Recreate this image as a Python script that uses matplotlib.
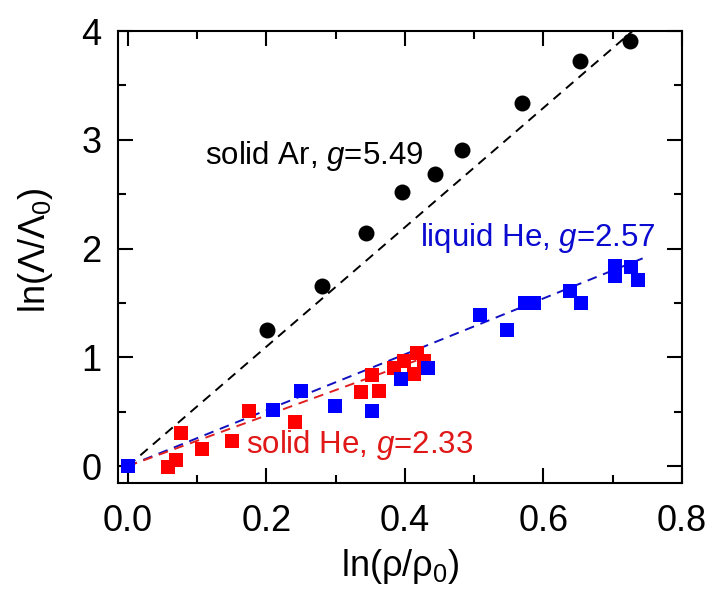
import matplotlib
matplotlib.use('Agg')
import matplotlib.pyplot as plt
import numpy as np

plt.rcParams['font.family'] = ['Liberation Sans', 'DejaVu Sans']
plt.rcParams['mathtext.fontset'] = 'custom'
plt.rcParams['mathtext.rm'] = 'Liberation Sans'
plt.rcParams['mathtext.it'] = 'Liberation Sans:italic'
plt.rcParams['mathtext.default'] = 'regular'

# solid Ar (black circles)
ar_x = [0.201, 0.281, 0.344, 0.396, 0.444, 0.482, 0.569, 0.653, 0.725]
ar_y = [1.25, 1.66, 2.14, 2.52, 2.685, 2.905, 3.34, 3.72, 3.91]
g_ar = 5.49

# liquid He (blue squares)
lhe_x = [0.0, 0.209, 0.25, 0.299, 0.352, 0.395, 0.433, 0.509, 0.547,
         0.574, 0.586, 0.638, 0.654, 0.703, 0.703, 0.727, 0.737]
lhe_y = [0.0, 0.52, 0.69, 0.55, 0.51, 0.80, 0.905, 1.385, 1.25,
         1.50, 1.50, 1.61, 1.50, 1.84, 1.75, 1.83, 1.71]
g_lhe = 2.57

# solid He (red squares)
she_x = [0.058, 0.07, 0.077, 0.107, 0.151, 0.175, 0.242, 0.336, 0.353,
         0.363, 0.384, 0.399, 0.413, 0.418, 0.428]
she_y = [-0.005, 0.055, 0.305, 0.16, 0.23, 0.505, 0.405, 0.68, 0.84,
         0.69, 0.90, 0.97, 0.85, 1.04, 0.97]
g_she = 2.33

RED = '#ff0000'
BLUE = '#0000ff'

fig = plt.figure(figsize=(7.1, 5.92), dpi=100)
ax = fig.add_axes([0.166, 0.184, 0.7946, 0.7636])

# fit lines through origin, slope = g
dash = (5, 3.5)
xa = np.array([0.0, 4.0 / g_ar])
ax.plot(xa, g_ar * xa, color='k', lw=1.4, dashes=dash, zorder=1)
xl = np.array([0.0, 0.745])
ax.plot(xl, g_lhe * xl, color='#1010c0', lw=1.4, dashes=dash, zorder=1)
xs = np.array([0.0, 0.43])
ax.plot(xs, g_she * xs, color='#e02020', lw=1.4, dashes=dash, zorder=1)

ax.plot(she_x, she_y, 's', color=RED, ms=10, mew=0, zorder=2)
ax.plot(lhe_x, lhe_y, 's', color=BLUE, ms=10, mew=0, zorder=3)
ax.plot(ar_x, ar_y, 'o', color='k', ms=11.5, mew=0, zorder=3)

# annotations
ax.text(0.111, 2.85, r'solid Ar, $\mathit{g}$=5.49', fontsize=22.5, color='k',
        va='center', ha='left')
ax.text(0.422, 2.10, r'liquid He, $\mathit{g}$=2.57', fontsize=22.5, color='#0a0ad0',
        va='center', ha='left')
ax.text(0.171, 0.19, r'solid He, $\mathit{g}$=2.33', fontsize=22.5, color='#e01818',
        va='center', ha='left')

ax.set_xlim(-0.0144, 0.8)
ax.set_ylim(-0.156, 4.0)

ax.set_xticks([0.0, 0.2, 0.4, 0.6, 0.8])
ax.set_xticklabels(['0.0', '0.2', '0.4', '0.6', '0.8'])
ax.set_yticks([0, 1, 2, 3, 4])
ax.set_xticks(np.arange(0.1, 0.8, 0.2), minor=True)
ax.set_yticks(np.arange(0.5, 4.0, 1.0), minor=True)
ax.tick_params(which='both', direction='in', top=True, right=True, width=1.5)
ax.tick_params(which='major', length=11, labelsize=26)
ax.tick_params(which='minor', length=6)
ax.tick_params(axis='x', which='major', pad=15)
ax.tick_params(axis='y', which='major', pad=12)
for sp in ax.spines.values():
    sp.set_linewidth(1.5)

ax.set_xlabel(r'ln($\rho/\rho_0$)', fontsize=26, labelpad=6)
ax.set_ylabel(r'ln($\Lambda/\Lambda_0$)', fontsize=26)
ax.yaxis.set_label_coords(-0.112, 0.515)

plt.savefig('out.png', dpi=100)
